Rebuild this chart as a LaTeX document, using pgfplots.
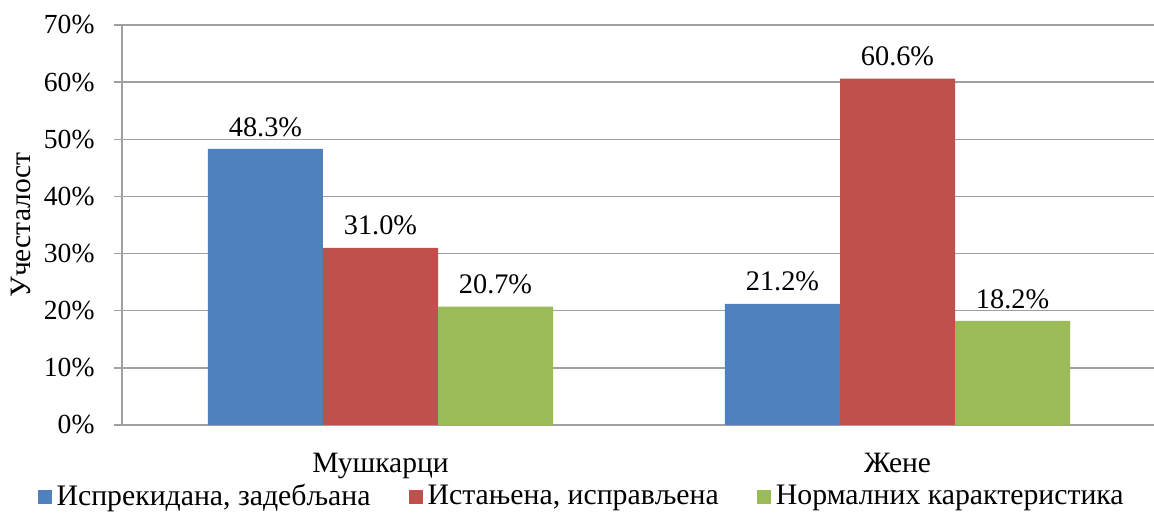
\documentclass[border=0pt]{standalone}
\usepackage{pgfplots}
\pgfplotsset{compat=1.18}
\usepackage{fontspec}
\setmainfont{Liberation Serif}
\definecolor{cblue}{RGB}{79,129,189}
\definecolor{cred}{RGB}{192,80,77}
\definecolor{cgreen}{RGB}{155,187,89}
\definecolor{cgrid}{RGB}{160,160,160}
\begin{document}
\begin{tikzpicture}
\fontsize{12}{14.4}\selectfont
\begin{axis}[
  at={(0,0)}, anchor=south west,
  scale only axis,
  width=430.83pt, height=166.67pt,
  xmin=-0.5, xmax=1.5, ymin=0, ymax=70,
  ybar=0pt, bar width=47.92pt,
  axis x line*=bottom, axis y line*=left,
  axis line style={draw=cgrid, line width=0.6pt, -},
  xtick={0,1}, xticklabels={Мушкарци, Жене},
  x tick style={draw=none},
  extra x ticks={-0.5,0.5,1.5}, extra x tick labels={},
  extra x tick style={major tick length=3.5pt, tick style={draw=cgrid, line width=0.6pt}, grid=none},
  xticklabel style={yshift=-4pt, font=\fontsize{12.3}{14.8}\selectfont},
  ytick={0,10,...,70},
  yticklabel={\pgfmathprintnumber{\tick}\%},
  yticklabel style={xshift=-3.75pt, font=\fontsize{11.5}{13.8}\selectfont},
  /pgf/number format/assume math mode=true,
  tick align=outside,
  y tick style={draw=cgrid, line width=0.6pt},
  major tick length=3.5pt,
  ymajorgrids, grid style={draw=cgrid, line width=0.6pt},
  ylabel={Учесталост},
  ylabel style={yshift=-2.8pt, font=\fontsize{12.3}{14.8}\selectfont},
  nodes near coords={\pgfmathprintnumber[fixed,fixed zerofill,precision=1]{\pgfplotspointmeta}\%},
  nodes near coords style={font=\fontsize{11.8}{14}\selectfont, /pgf/number format/assume math mode=true, yshift=1pt},
  legend style={at={(0.446,-0.18)}, anchor=center, draw=none, fill=none,
    legend columns=3, font=\fontsize{12.4}{14.9}\selectfont,
    /tikz/every even column/.append style={column sep=14pt},
    inner sep=0pt},
  legend image code/.code={\fill[#1] (0pt,-2.9pt) rectangle (5.8pt,2.9pt);},
]
\addplot[fill=cblue, draw=none] coordinates {(0,48.3) (1,21.2)};
\addplot[fill=cred, draw=none] coordinates {(0,31.0) (1,60.6)};
\addplot[fill=cgreen, draw=none] coordinates {(0,20.7) (1,18.2)};
\legend{Испрекидана{,} задебљана, Истањена{,} исправљена, Нормалних карактеристика}
\end{axis}
\pgfresetboundingbox
\path (-50.83pt,-37.08pt) rectangle (430pt,177.08pt);
\end{tikzpicture}
\end{document}
